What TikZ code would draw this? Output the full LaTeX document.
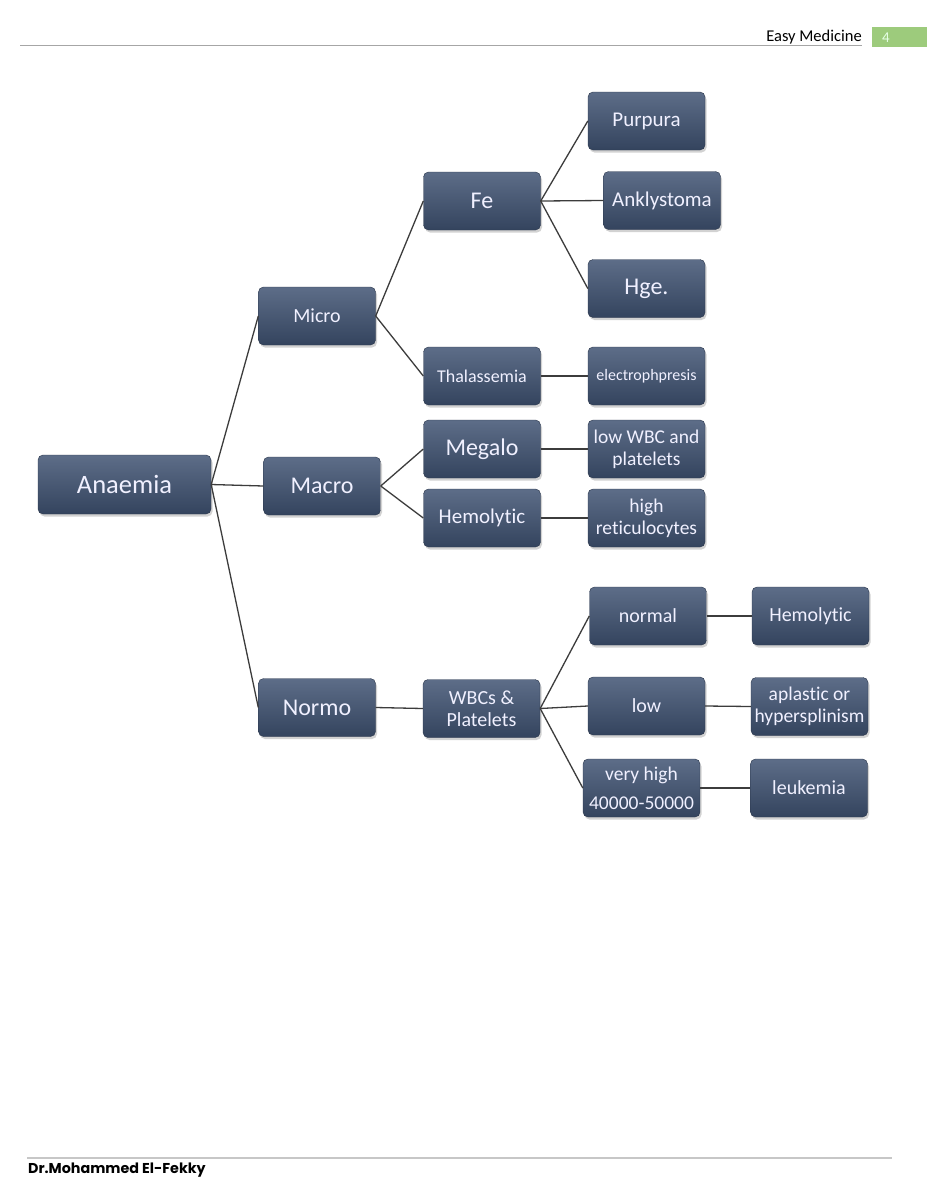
\documentclass[tikz,border=0pt]{standalone}
\usepackage{fontspec}
\setmainfont{Carlito}[Ligatures=CommonOff]
\newfontfamily\footfont{Poppins}
\usetikzlibrary{shadows}
\definecolor{boxtop}{HTML}{5D6D88}
\definecolor{boxbot}{HTML}{34445E}
\definecolor{linec}{HTML}{3C3C3C}
\definecolor{pagegreen}{HTML}{9DCB7C}
\tikzset{
  box/.style={rectangle, rounded corners=5pt, top color=boxtop, bottom color=boxbot,
    draw=boxbot!80!black, line width=0.4pt, text=white!94!blue, align=center, inner sep=1pt,
    minimum width=117pt, minimum height=58pt,
    drop shadow={opacity=0.35, shadow xshift=1.5pt, shadow yshift=-2.5pt},
    font=\fontsize{20}{23}\selectfont},
  big/.style={font=\fontsize{24}{28}\selectfont},
  conn/.style={draw=linec, line width=1.3pt}
}
\begin{document}
\begin{tikzpicture}[x=1pt,y=-1pt]
\useasboundingbox[fill=white] (0,0) rectangle (927,1200);
% header
\draw[color=black!35, line width=1pt] (20,45) -- (862,45);
\node[anchor=base east, inner sep=0pt, font=\fontsize{16.5}{18}\selectfont] (hdr) at (862,41) {Easy Medicine};
\fill[pagegreen] (872,27) rectangle (927,47);
\node[text=white!90!green, font=\fontsize{15}{16}\selectfont, inner sep=0pt] (pg) at (886,37.5) {4};
% footer
\draw[color=black!22, line width=2pt] (27,1158) -- (892,1158);
\node[anchor=base west, inner sep=0pt, font=\footfont\bfseries\fontsize{14.3}{16}\selectfont] (ftr) at (28,1173.5) {Dr.Mohammed El-Fekky};

% nodes
\node[box, minimum width=173pt, minimum height=59pt, font=\fontsize{26.5}{30}\selectfont] (anaemia) at (124.5,484.5) {Anaemia};
\node[box] (micro) at (317,316) {Micro};
\node[box, big] (macro) at (322,486) {Macro};
\node[box, big] (normo) at (317,707.5) {Normo};
\node[box, big] (fe) at (482,201) {Fe};
\node[box, font=\fontsize{18}{21}\selectfont] (thal) at (482,376) {Thalassemia};
\node[box, big] (megalo) at (482,449) {Megalo};
\node[box, font=\fontsize{21}{24}\selectfont] (hemo) at (482,518) {Hemolytic};
\node[box, font=\fontsize{20}{22}\selectfont] (wbc) at (481.5,708.5) {WBCs \&\\Platelets};
\node[box, font=\fontsize{21}{24}\selectfont] (purpura) at (646.5,121) {Purpura};
\node[box, font=\fontsize{21}{24}\selectfont] (ankly) at (662,200.5) {Anklystoma};
\node[box, big] (hge) at (646.5,288.5) {Hge.};
\node[box, font=\fontsize{16}{19}\selectfont] (electro) at (646.5,376) {electrophpresis};
\node[box, font=\fontsize{19.5}{22}\selectfont] (lowwbc) at (646.5,449) {low WBC and\\platelets};
\node[box, font=\fontsize{19.5}{22}\selectfont] (retic) at (646.5,518) {high\\reticulocytes};
\node[box] (normal) at (648,616) {normal};
\node[box] (low) at (646.5,706) {low};
\node[box, font=\fontsize{19.5}{29}\selectfont] (vhigh) at (641.5,788) {very high\\40000-50000};
\node[box] (hemo2) at (810.5,616) {Hemolytic};
\node[box, font=\fontsize{19.5}{22}\selectfont] (aplastic) at (809.5,706.5) {aplastic or\\hypersplinism};
\node[box] (leuk) at (809,788) {leukemia};

% connectors
\draw[conn] (anaemia.east) -- (micro.west);
\draw[conn] (anaemia.east) -- (macro.west);
\draw[conn] (anaemia.east) -- (normo.west);
\draw[conn] (micro.east) -- (fe.west);
\draw[conn] (micro.east) -- (thal.west);
\draw[conn] (macro.east) -- (megalo.west);
\draw[conn] (macro.east) -- (hemo.west);
\draw[conn] (normo.east) -- (wbc.west);
\draw[conn] (fe.east) -- (purpura.west);
\draw[conn] (fe.east) -- (ankly.west);
\draw[conn] (fe.east) -- (hge.west);
\draw[conn] (thal.east) -- (electro.west);
\draw[conn] (megalo.east) -- (lowwbc.west);
\draw[conn] (hemo.east) -- (retic.west);
\draw[conn] (wbc.east) -- (normal.west);
\draw[conn] (wbc.east) -- (low.west);
\draw[conn] (wbc.east) -- (vhigh.west);
\draw[conn] (normal.east) -- (hemo2.west);
\draw[conn] (low.east) -- (aplastic.west);
\draw[conn] (vhigh.east) -- (leuk.west);
\end{tikzpicture}
\end{document}
